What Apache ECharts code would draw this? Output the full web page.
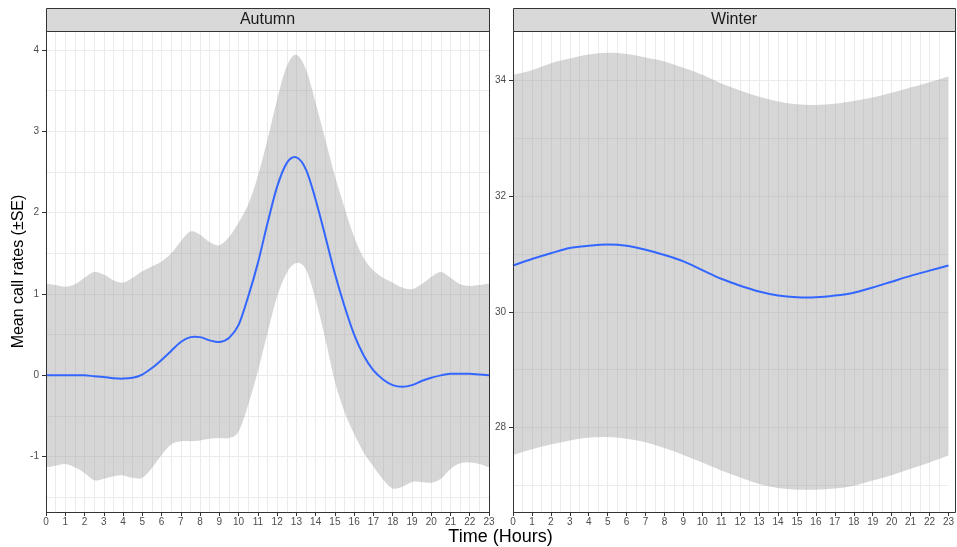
<!DOCTYPE html>
<html><head><meta charset="utf-8">
<script src="https://cdn.jsdelivr.net/npm/echarts@6/dist/echarts.min.js"></script>
<style>html,body{margin:0;padding:0;background:#fff}#c{width:957px;height:547px}</style>
</head><body><div id="c"></div>
<script>
// ---------------- DATA ----------------
const panelTitles = ['Autumn', 'Winter'];
const xTitle = 'Time (Hours)';
const yTitle = 'Mean call rates (\u00b1SE)';

const hoursAutumn = [0,0.5,1,1.5,2,2.5,3,3.5,4,4.5,5,5.5,6,6.5,7,7.5,8,8.5,9,9.5,10,10.5,11,11.5,12,12.5,13,13.5,14,14.5,15,15.5,16,16.5,17,17.5,18,18.5,19,19.5,20,20.5,21,21.5,22,22.5,23];
const meanAutumn = [0.00,0.00,0.00,0.00,0.00,-0.01,-0.02,-0.035,-0.04,-0.03,0.01,0.09,0.19,0.30,0.41,0.47,0.47,0.43,0.41,0.46,0.62,0.97,1.38,1.87,2.32,2.61,2.68,2.53,2.16,1.71,1.25,0.85,0.50,0.24,0.06,-0.05,-0.12,-0.14,-0.12,-0.07,-0.03,0.00,0.02,0.02,0.02,0.01,0.00];
const upperAutumn = [1.13,1.11,1.09,1.12,1.20,1.27,1.24,1.17,1.14,1.20,1.28,1.34,1.40,1.50,1.65,1.77,1.73,1.64,1.60,1.70,1.88,2.10,2.45,2.90,3.39,3.80,3.94,3.76,3.35,2.90,2.45,2.06,1.70,1.44,1.29,1.20,1.14,1.08,1.06,1.12,1.21,1.27,1.20,1.12,1.10,1.11,1.13];
const lowerAutumn = [-1.13,-1.11,-1.09,-1.13,-1.20,-1.29,-1.27,-1.24,-1.23,-1.26,-1.26,-1.14,-0.98,-0.85,-0.81,-0.81,-0.80,-0.78,-0.77,-0.77,-0.69,-0.36,0.05,0.52,0.97,1.26,1.38,1.30,0.93,0.45,-0.08,-0.45,-0.72,-0.95,-1.12,-1.28,-1.39,-1.37,-1.31,-1.31,-1.32,-1.27,-1.15,-1.08,-1.07,-1.09,-1.13];

const hoursWinter = [0,1,2,3,4,5,6,7,8,9,10,11,12,13,14,15,16,17,18,19,20,21,22,23];
const meanWinter = [30.80,30.91,31.01,31.10,31.14,31.16,31.14,31.07,30.98,30.87,30.72,30.57,30.45,30.35,30.28,30.25,30.25,30.28,30.33,30.42,30.52,30.62,30.71,30.80];
const upperWinter = [34.09,34.17,34.29,34.37,34.44,34.47,34.45,34.39,34.32,34.21,34.09,33.94,33.82,33.71,33.63,33.58,33.57,33.59,33.64,33.70,33.78,33.87,33.96,34.06];
const lowerWinter = [27.53,27.63,27.71,27.78,27.83,27.84,27.81,27.75,27.65,27.53,27.40,27.26,27.14,27.03,26.96,26.93,26.93,26.95,27.00,27.09,27.18,27.29,27.40,27.52];

const xTicks = [0,1,2,3,4,5,6,7,8,9,10,11,12,13,14,15,16,17,18,19,20,21,22,23];
const yTicksAutumn = [-1,0,1,2,3,4];
const yTicksWinter = [28,30,32,34];
const yRangeAutumn = [-1.68, 4.234];
const yRangeWinter = [26.545, 34.846];

// ---------------- STYLE / LAYOUT ----------------
const FONT = 'Liberation Sans, Arial, sans-serif';
const P = [{left:46, top:31, width:443, height:481}, {left:513, top:31, width:442, height:481}];
const STRIP_H = 23;
const GRID_COLOR = '#ebebeb';
const BAND = 'rgba(153,153,153,0.4)';
const LINE = '#3366FF';

function crSegments(pts) {
  let d = '';
  for (let i = 0; i < pts.length - 1; i++) {
    const p0 = pts[i - 1] || pts[i], p1 = pts[i], p2 = pts[i + 1], p3 = pts[i + 2] || pts[i + 1];
    const c1x = p1[0] + (p2[0] - p0[0]) / 6, c1y = p1[1] + (p2[1] - p0[1]) / 6;
    const c2x = p2[0] - (p3[0] - p1[0]) / 6, c2y = p2[1] - (p3[1] - p1[1]) / 6;
    d += ` C${c1x},${c1y} ${c2x},${c2y} ${p2[0]},${p2[1]}`;
  }
  return d;
}
function bandSeries(hours, upper, lower, xi, yi) {
  return {
    type: 'custom', xAxisIndex: xi, yAxisIndex: yi, z: 1, silent: true,
    data: [[hours[0], upper[0]]],
    encode: {x: 0, y: 1},
    renderItem: function (params, api) {
      const up = hours.map((h, i) => api.coord([h, upper[i]]));
      const lo = hours.map((h, i) => api.coord([h, lower[i]])).reverse();
      const d = `M${up[0][0]},${up[0][1]}` + crSegments(up) + ` L${lo[0][0]},${lo[0][1]}` + crSegments(lo) + ' Z';
      return {type: 'path', shape: {pathData: d}, style: {fill: BAND}};
    }
  };
}
function meanSeries(hours, vals, xi, yi) {
  return {
    type: 'custom', xAxisIndex: xi, yAxisIndex: yi, z: 3, silent: true,
    data: [[hours[0], vals[0]]],
    encode: {x: 0, y: 1},
    renderItem: function (params, api) {
      const pts = hours.map((h, i) => api.coord([h, vals[i]]));
      const d = `M${pts[0][0]},${pts[0][1]}` + crSegments(pts);
      return {type: 'path', shape: {pathData: d}, style: {fill: null, stroke: LINE, lineWidth: 2, lineJoin: 'round'}};
    }
  };
}
function xAxisDef(gi) {
  return {
    type: 'value', gridIndex: gi, min: 0, max: 23, interval: 1,
    axisLine: {show: false, onZero: false},
    axisTick: {show: true, length: 4, customValues: xTicks, lineStyle: {color: '#333'}},
    axisLabel: {color: '#4d4d4d', fontSize: 10, fontFamily: FONT, margin: 5, customValues: xTicks},
    splitLine: {show: false}
  };
}
function xAxisGrid(gi) {
  return {
    type: 'value', gridIndex: gi, min: 0, max: 23, interval: 0.5, position: 'top',
    axisLine: {show: false, onZero: false}, axisTick: {show: false}, axisLabel: {show: false},
    splitLine: {show: true, showMinLine: false, showMaxLine: false, lineStyle: {color: GRID_COLOR, width: 1}}
  };
}
function yAxisVisible(gi, range, ticks, extra) {
  return Object.assign({
    type: 'value', gridIndex: gi, min: range[0], max: range[1], position: 'left',
    axisLine: {show: false, onZero: false},
    axisTick: {show: true, length: 4, customValues: ticks, lineStyle: {color: '#333'}},
    axisLabel: {color: '#4d4d4d', fontSize: 10, fontFamily: FONT, margin: 7, customValues: ticks},
    splitLine: {show: false}
  }, extra || {});
}
function yAxisGrid(gi, range, splitNumber) {
  return {
    type: 'value', gridIndex: gi, min: range[0], max: range[1], position: 'right', splitNumber: splitNumber,
    axisLine: {show: false, onZero: false}, axisTick: {show: false}, axisLabel: {show: false},
    splitLine: {show: true, showMinLine: false, showMaxLine: false, lineStyle: {color: GRID_COLOR, width: 1}}
  };
}

const graphics = [];
P.forEach((p, i) => {
  graphics.push({type: 'rect', z: 100, shape: {x: p.left + 0.5, y: p.top - STRIP_H + 0.5, width: p.width, height: STRIP_H},
    style: {fill: '#d9d9d9', stroke: '#333', lineWidth: 1}});
  graphics.push({type: 'text', z: 101, x: p.left + p.width / 2, y: p.top - STRIP_H / 2 + 0.5,
    style: {text: panelTitles[i], fill: '#1a1a1a', font: '16px ' + FONT, textAlign: 'center', textVerticalAlign: 'middle'}});
  graphics.push({type: 'rect', z: 100, shape: {x: p.left + 0.5, y: p.top + 0.5, width: p.width, height: p.height},
    style: {fill: 'none', stroke: '#333', lineWidth: 1}});
});
graphics.push({type: 'text', z: 101, x: (P[0].left + P[1].left + P[1].width) / 2, y: 537,
  style: {text: xTitle, fill: '#000', font: '18px ' + FONT, textAlign: 'center', textVerticalAlign: 'middle'}});

const option = {
  backgroundColor: '#fff',
  animation: false,
  grid: P.map(p => Object.assign({show: false, containLabel: false}, p)),
  xAxis: [xAxisDef(0), xAxisGrid(0), xAxisDef(1), xAxisGrid(1)],
  yAxis: [
    yAxisVisible(0, yRangeAutumn, yTicksAutumn, {name: yTitle, nameLocation: 'middle', nameGap: 18, nameRotate: 90,
      nameTextStyle: {color: '#000', fontSize: 16, fontFamily: FONT}}),
    yAxisGrid(0, yRangeAutumn, 12),
    yAxisVisible(1, yRangeWinter, yTicksWinter),
    yAxisGrid(1, yRangeWinter, 8)
  ],
  series: [
    bandSeries(hoursAutumn, upperAutumn, lowerAutumn, 0, 0),
    meanSeries(hoursAutumn, meanAutumn, 0, 0),
    bandSeries(hoursWinter, upperWinter, lowerWinter, 2, 2),
    meanSeries(hoursWinter, meanWinter, 2, 2)
  ],
  graphic: graphics
};
const chart = echarts.init(document.getElementById('c'), null, {renderer: 'canvas'});
chart.setOption(option);
</script></body></html>
